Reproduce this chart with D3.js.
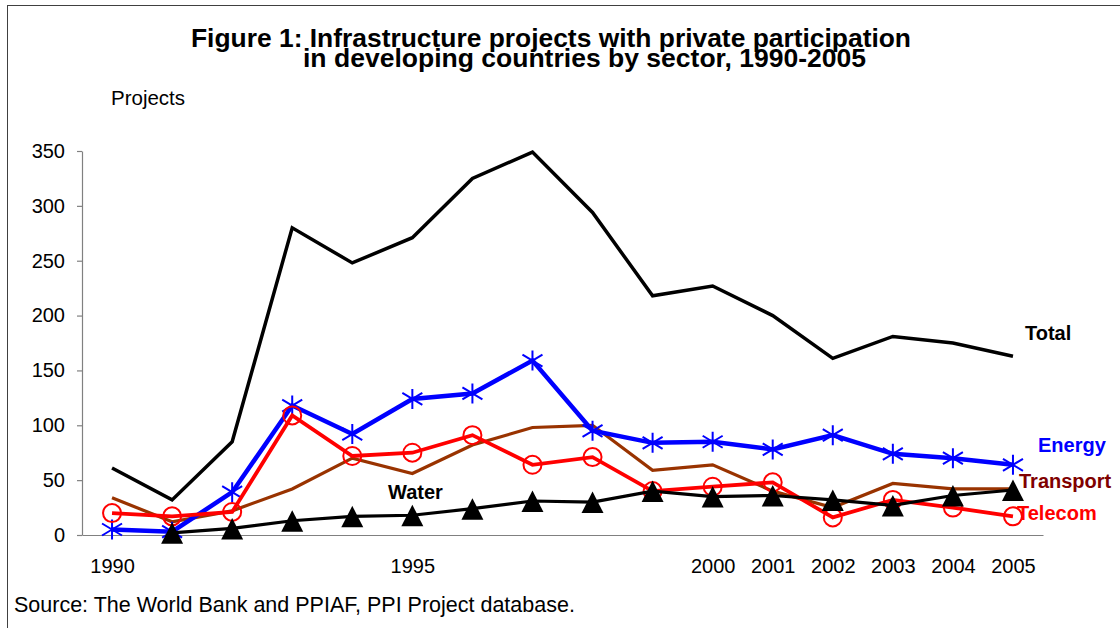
<!DOCTYPE html>
<html>
<head>
<meta charset="utf-8">
<script src="https://cdn.jsdelivr.net/npm/d3@7"></script>
<style>
  html, body { margin: 0; padding: 0; background: #ffffff; }
  svg { display: block; font-family: "Liberation Sans", Arial, sans-serif; }
</style>
</head>
<body>
<svg id="chart" width="1120" height="628"></svg>
<script>
// ---- data ----
const years = [1990,1991,1992,1993,1994,1995,1996,1997,1998,1999,2000,2001,2002,2003,2004,2005];
const yearLabels = ["1990","","","","","1995","","","","","2000","2001","2002","2003","2004","2005"];
const yTicks = [0,50,100,150,200,250,300,350];
const total     = [61, 32, 85, 280, 248, 271, 325, 349, 294, 218, 227, 200, 161, 181, 175, 163];
const energy    = [5, 3, 39, 118, 92, 124, 129, 159, 95, 84, 85, 78, 91, 74, 70, 64];
const transport = [34, 12, 22, 42, 70, 56, 82, 98, 100, 59, 64, 40, 25, 47, 42, 42];
const telecom   = [20, 17, 21, 109, 72, 75, 91, 64, 71, 40, 44, 48, 16, 32, 25, 17];
const water     = [null, 2, 6, 13, 17, 18, 24, 31, 30, 40, 35, 36, 32, 27, 36, 41];

const titleLines = ["Figure 1: Infrastructure projects with private participation",
                    "in developing countries by sector, 1990-2005"];
const yAxisTitle = "Projects";
const sourceText = "Source: The World Bank and PPIAF, PPI Project database.";

// ---- setup ----
const svg = d3.select("#chart");

// outer frame
svg.append("rect").attr("x", 7.5).attr("y", 5.5).attr("width", 1200).attr("height", 700)
   .attr("fill", "none").attr("stroke", "#404040").attr("stroke-width", 1);

const x = d3.scalePoint().domain(years).range([82, 1043]).padding(0.5);
const y = d3.scaleLinear().domain([0, 350]).range([535, 151]);

// title
const tl = svg.append("g").attr("font-weight", "bold").attr("font-size", 25.5).attr("fill", "#000");
tl.append("text").attr("x", 191).attr("y", 46.5).attr("textLength", 720)
  .attr("lengthAdjust", "spacingAndGlyphs").text(titleLines[0]);
tl.append("text").attr("x", 303).attr("y", 66.5).attr("textLength", 563)
  .attr("lengthAdjust", "spacingAndGlyphs").text(titleLines[1]);

// y axis title
svg.append("text").attr("x", 111).attr("y", 105).attr("font-size", 20.5).attr("fill", "#000").text(yAxisTitle);

// y axis
const yAxis = svg.append("g").attr("transform", "translate(82,0)")
  .call(d3.axisLeft(y).tickValues(yTicks).tickSize(5).tickSizeOuter(0).tickPadding(12));
yAxis.selectAll("path, line").attr("stroke", "#808080").attr("stroke-width", 1.2);
yAxis.selectAll("text").attr("font-size", 20).attr("fill", "#000")
  .attr("font-family", "Liberation Sans, Arial, sans-serif");

// x axis
const xAxis = svg.append("g").attr("transform", "translate(0,535)")
  .call(d3.axisBottom(x).tickSize(0).tickSizeOuter(0).tickPadding(24)
        .tickFormat((d, i) => yearLabels[i]));
xAxis.selectAll("path").attr("stroke", "#808080").attr("stroke-width", 1.2);
xAxis.selectAll("text").attr("font-size", 20).attr("fill", "#000")
  .attr("font-family", "Liberation Sans, Arial, sans-serif");

// lines
const line = d3.line().defined(d => d.v !== null).x(d => x(d.yr)).y(d => y(d.v));
const toPts = arr => arr.map((v, i) => ({yr: years[i], v: v}));

function drawLine(arr, color, width) {
  svg.append("path").datum(toPts(arr)).attr("d", line)
    .attr("fill", "none").attr("stroke", color).attr("stroke-width", width)
    .attr("stroke-linejoin", "miter").attr("stroke-linecap", "butt");
}

drawLine(total, "#000000", 3.5);
drawLine(transport, "#993300", 3.2);

// energy
drawLine(energy, "#0000ff", 4.5);
const starPath = "M0,-10L0,10M-10,-6L10,6M-10,6L10,-6";
svg.append("g").selectAll("path").data(toPts(energy)).join("path")
  .attr("transform", d => `translate(${x(d.yr)},${y(d.v)})`)
  .attr("d", starPath).attr("stroke", "#0000ff").attr("stroke-width", 2).attr("fill", "none");

// telecom
drawLine(telecom, "#ff0000", 3.8);
svg.append("g").selectAll("circle").data(toPts(telecom)).join("circle")
  .attr("cx", d => x(d.yr)).attr("cy", d => y(d.v)).attr("r", 9)
  .attr("fill", "none").attr("stroke", "#ff0000").attr("stroke-width", 2);

// water
drawLine(water, "#000000", 3.2);
const triPath = "M0,-10.5L11,11L-11,11Z";
svg.append("g").selectAll("path").data(toPts(water).filter(d => d.v !== null)).join("path")
  .attr("transform", d => `translate(${x(d.yr)},${y(d.v)})`)
  .attr("d", triPath).attr("fill", "#000000");

// series labels
const labels = [
  {t: "Total", x: 1025, y: 340, c: "#000000"},
  {t: "Energy", x: 1038, y: 452, c: "#0000ff"},
  {t: "Transport", x: 1019, y: 488, c: "#800000"},
  {t: "Telecom", x: 1017, y: 520, c: "#ff0000"},
  {t: "Water", x: 388, y: 499, c: "#000000"}
];
svg.append("g").selectAll("text").data(labels).join("text")
  .attr("x", d => d.x).attr("y", d => d.y).attr("fill", d => d.c)
  .attr("font-size", 20).attr("font-weight", "bold").text(d => d.t);

// source
svg.append("text").attr("x", 14).attr("y", 612).attr("font-size", 21.5).attr("fill", "#000").text(sourceText);
</script>
</body>
</html>
